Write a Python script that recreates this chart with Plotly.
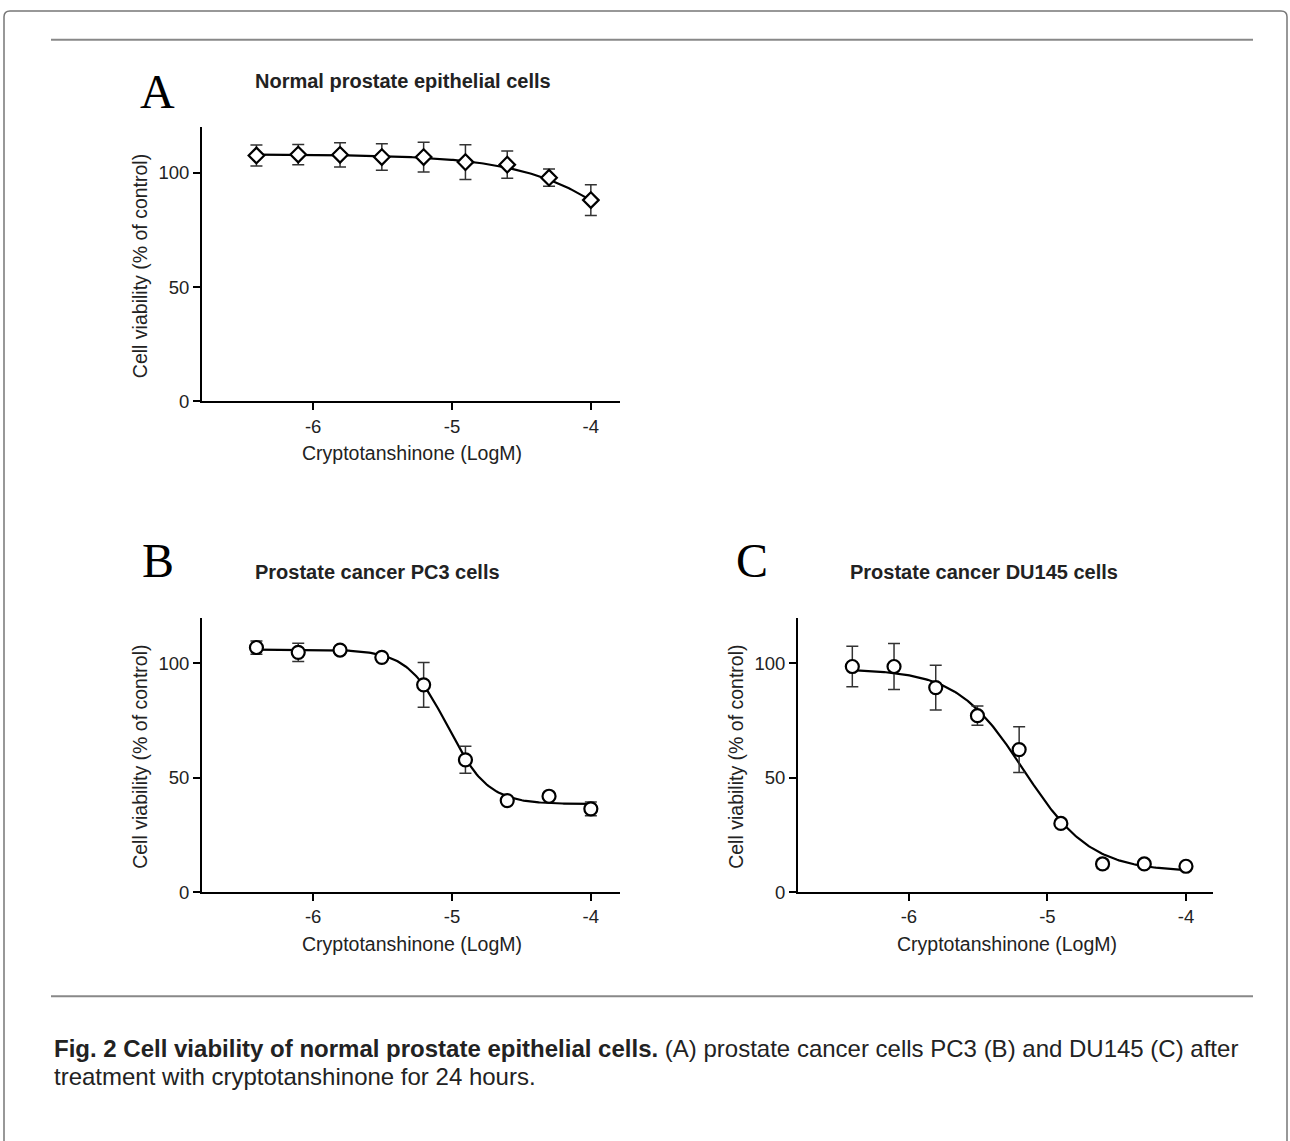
import numpy as np
import plotly.graph_objects as go

W, H = 1290, 1141

# ---- data ----
log_conc = [-6.408, -6.107, -5.806, -5.505, -5.204, -4.903, -4.602, -4.301, -4.000]

a_mean = [107.5, 107.9, 107.8, 106.8, 106.8, 104.6, 103.5, 97.8, 88.0]
a_err = [4.6, 4.4, 5.3, 5.8, 6.5, 7.6, 6.0, 3.8, 6.7]

b_mean = [106.9, 104.8, 105.8, 102.6, 90.6, 57.8, 40.0, 41.9, 36.4]
b_err = [2.9, 4.0, 1.0, 1.0, 9.8, 5.9, 1.5, 1.0, 3.0]

c_mean = [98.6, 98.6, 89.4, 77.1, 62.3, 30.0, 12.3, 12.3, 11.3]
c_err = [8.8, 10.0, 9.8, 4.2, 10.0, 1.0, 2.0, 1.5, 1.5]

# 4-parameter logistic fit parameters (top, bottom, logIC50, hill)
a_fit = (108.0, 0.0, -3.36, 1.0)
b_fit = (106.0, 38.5, -5.03, 3.0)
c_fit = (97.5, 9.0, -5.17, 1.8)

titles = ["Normal prostate epithelial cells", "Prostate cancer PC3 cells", "Prostate cancer DU145 cells"]
letters = ["A", "B", "C"]
x_title = "Cryptotanshinone (LogM)"
y_title = "Cell viability (% of control)"
y_ticks = [0, 50, 100]
x_ticks = [-6, -5, -4]
x_ticktext = ["-6", "-5", "-4"]
caption_bold = "Fig. 2 Cell viability of normal prostate epithelial cells."
caption_rest = " (A) prostate cancer cells PC3 (B) and DU145 (C) after"
caption_line2 = "treatment with cryptotanshinone for 24 hours."


def px(x):
    return x / W


def py(y):
    return 1 - y / H


def four_pl(x, p):
    top, bottom, ic50, hill = p
    x = np.asarray(x)
    return bottom + (top - bottom) / (1 + 10 ** ((x - ic50) * hill))


fig = go.Figure()

panels = [
    dict(mean=a_mean, err=a_err, fit=a_fit, sym="diamond", size=12, xd=(202, 620), yd=(128, 405), xr=(-6.8, -3.79)),
    dict(mean=b_mean, err=b_err, fit=b_fit, sym="circle", size=13, xd=(202, 620), yd=(623, 900), xr=(-6.8, -3.79)),
    dict(mean=c_mean, err=c_err, fit=c_fit, sym="circle", size=13, xd=(798, 1213), yd=(623, 900), xr=(-6.8, -3.805)),
]

font_sans = "Liberation Sans, Arial, sans-serif"
annotations = []
for i, p in enumerate(panels):
    idx = "" if i == 0 else str(i + 1)
    xa, ya = "x" + idx, "y" + idx
    xs = np.linspace(log_conc[0], log_conc[-1], 200)
    fig.add_trace(go.Scatter(x=xs, y=four_pl(xs, p["fit"]), mode="lines",
                             line=dict(color="black", width=2.2), xaxis=xa, yaxis=ya,
                             showlegend=False, hoverinfo="skip"))
    fig.add_trace(go.Scatter(x=log_conc, y=p["mean"], mode="markers",
                             marker=dict(symbol=p["sym"], size=p["size"], color="white",
                                         line=dict(color="black", width=2.2)),
                             error_y=dict(type="data", array=p["err"], color="#333333",
                                          thickness=1.5, width=6),
                             xaxis=xa, yaxis=ya, showlegend=False))
    axis_common = dict(showline=True, linecolor="black", linewidth=2, ticks="outside",
                       ticklen=7, tickwidth=2, tickcolor="black", showgrid=False, zeroline=False,
                       tickfont=dict(family=font_sans, size=18.5, color="#222"))
    fig.update_layout(**{
        "xaxis" + idx: dict(domain=[px(p["xd"][0]), px(p["xd"][1])], range=list(p["xr"]),
                            tickvals=x_ticks, ticktext=x_ticktext, anchor=ya, **axis_common),
        "yaxis" + idx: dict(domain=[py(p["yd"][1]), py(p["yd"][0])], range=[0, 120],
                            tickvals=y_ticks, anchor=xa, **axis_common),
    })
    xmid = (p["xd"][0] + p["xd"][1]) / 2
    ymid = (p["yd"][0] + p["yd"][1]) / 2
    annotations.append(dict(x=px(xmid + 1), y=py(p["yd"][1] + 52), xref="paper", yref="paper",
                            text=x_title, showarrow=False, xanchor="center", yanchor="middle",
                            font=dict(family=font_sans, size=19.5, color="#222")))
    annotations.append(dict(x=px(p["xd"][0] - 62), y=py(ymid + 2), xref="paper", yref="paper",
                            text=y_title, showarrow=False, textangle=-90, xanchor="center",
                            yanchor="middle", font=dict(family=font_sans, size=19.5, color="#222")))

letter_pos = [(157, 92), (158, 565), (752, 565)]
title_pos = [(253, 82), (253, 577), (848, 577)]
for i in range(3):
    annotations.append(dict(x=px(letter_pos[i][0]), y=py(letter_pos[i][1]), xref="paper", yref="paper",
                            text=letters[i], showarrow=False, xanchor="center", yanchor="middle",
                            font=dict(family="Liberation Serif, Times New Roman, serif", size=48, color="black")))
    annotations.append(dict(x=px(title_pos[i][0]), y=py(title_pos[i][1]), xref="paper", yref="paper",
                            text="<b>" + titles[i] + "</b>", showarrow=False, xanchor="left", yanchor="middle",
                            font=dict(family=font_sans, size=20, color="#222")))

annotations.append(dict(x=px(52), y=py(1058), xref="paper", yref="paper", xanchor="left", yanchor="middle",
                        showarrow=False, align="left",
                        text="<b>" + caption_bold + "</b>" + caption_rest,
                        font=dict(family=font_sans, size=24, color="#222")))
annotations.append(dict(x=px(52), y=py(1086), xref="paper", yref="paper", xanchor="left", yanchor="middle",
                        showarrow=False, align="left", text=caption_line2,
                        font=dict(family=font_sans, size=24, color="#222")))

r = 6
left, top, right, bottom = 4, 11, 1287, 1160
path = (f"M {px(left)} {py(bottom)} L {px(left)} {py(top + r)} Q {px(left)} {py(top)} {px(left + r)} {py(top)} "
        f"L {px(right - r)} {py(top)} Q {px(right)} {py(top)} {px(right)} {py(top + r)} L {px(right)} {py(bottom)}")
shapes = [
    dict(type="path", path=path, xref="paper", yref="paper", line=dict(color="#777777", width=1.5)),
    dict(type="line", x0=px(51), x1=px(1253), y0=py(40), y1=py(40), xref="paper", yref="paper",
         line=dict(color="#888888", width=2)),
    dict(type="line", x0=px(51), x1=px(1253), y0=py(1005), y1=py(1005), xref="paper", yref="paper",
         line=dict(color="#888888", width=2)),
]

fig.update_layout(width=W, height=H, margin=dict(l=0, r=0, t=0, b=0),
                  paper_bgcolor="white", plot_bgcolor="white",
                  annotations=annotations, shapes=shapes, showlegend=False)

fig.write_html("out.html", config={"displayModeBar": False},
               post_script="document.body.style.margin='0';document.body.style.overflow='hidden';")
